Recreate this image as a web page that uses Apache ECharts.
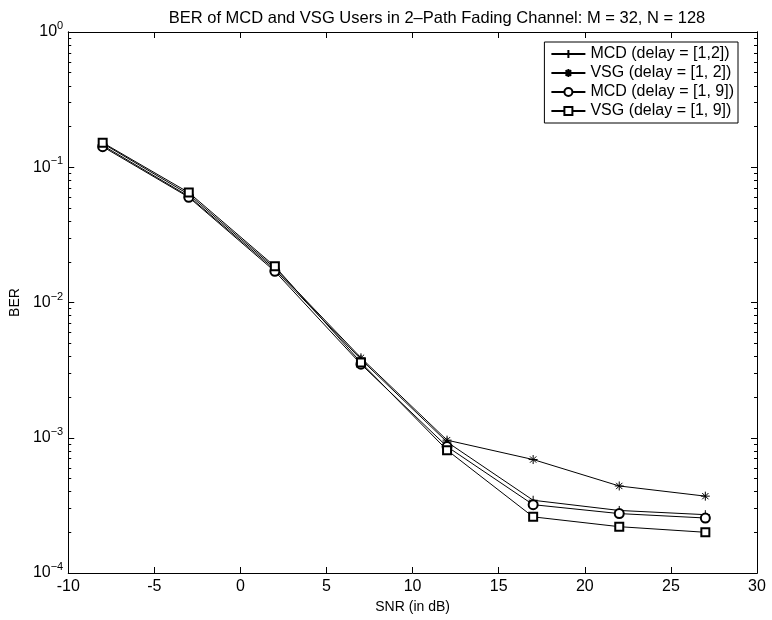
<!DOCTYPE html>
<html>
<head>
<meta charset="utf-8">
<script src="https://cdn.jsdelivr.net/npm/echarts@6/dist/echarts.min.js"></script>
<style>html,body{margin:0;padding:0;background:#fff}#c{width:772px;height:620px}</style>
</head>
<body>
<div id="c"></div>
<script>
var snr = [-8, -3, 2, 7, 12, 17, 22, 27];
var mcd12 = [0.145, 0.061, 0.0175, 0.0038, 0.00093, 0.000345, 0.00029, 0.00027];
var vsg12 = [0.150, 0.063, 0.0180, 0.0039, 0.00096, 0.00069, 0.00044, 0.00037];
var mcd19 = [0.142, 0.060, 0.0170, 0.0035, 0.00086, 0.00032, 0.000275, 0.000255];
var vsg19 = [0.152, 0.065, 0.0185, 0.0036, 0.00081, 0.00026, 0.00022, 0.00020];
var seriesNames = ['MCD (delay = [1,2])', 'VSG (delay = [1, 2])', 'MCD (delay = [1, 9])', 'VSG (delay = [1, 9])'];
var xTicks = [-10, -5, 0, 5, 10, 15, 20, 25, 30];
var yMajor = [1e-4, 1e-3, 1e-2, 1e-1, 1];

var yMinor = [];
for (var e = -4; e < 0; e++) for (var k = 2; k <= 9; k++) yMinor.push(k * Math.pow(10, e));

var FONT = 'Liberation Sans, Arial, sans-serif';
function pairs(arr){ return snr.map(function(x,i){ return [x, arr[i]]; }); }

var plusPath = 'path://M5,0L5,10M0,5L10,5';
var starPath = 'path://M5,0L5,10M0,5L10,5M1.5,1.5L8.5,8.5M1.5,8.5L8.5,1.5';

function mkSeries(name, data, symbol, size) {
  return {
    name: name, type: 'line', data: pairs(data),
    symbol: symbol, symbolSize: size, showSymbol: true,
    lineStyle: { color: '#000', width: 1 },
    itemStyle: { color: '#000', borderColor: '#000', borderWidth: 1 },
    emphasis: { disabled: true }, animation: false, z: 3
  };
}

function yAx(pos, ticks, len, labels) {
  return {
    type: 'log', logBase: 10, min: 1e-4, max: 1, position: pos,
    axisLine: { show: true, onZero: false, lineStyle: { color: '#000', width: 1 } },
    axisTick: { show: true, inside: true, length: len, customValues: ticks, lineStyle: { color: '#000' } },
    splitLine: { show: false },
    axisLabel: labels ? {
      show: true, customValues: yMajor, margin: 5, fontFamily: FONT, fontSize: 16, color: '#000',
      formatter: function(v){ var ex = Math.round(Math.log10(v)); return '10{s|' + (ex < 0 ? '\u2212' + (-ex) : ex) + '}'; },
      rich: { s: { fontSize: 11, verticalAlign: 'bottom', padding: [0,0,12,0], fontFamily: FONT, color: '#000' } }
    } : { show: false },
    name: labels ? 'BER' : '', nameLocation: 'middle', nameGap: 38,
    nameTextStyle: { fontFamily: FONT, fontSize: 14, color: '#000' }
  };
}
function xAx(pos, labels) {
  return {
    type: 'value', min: -10, max: 30, interval: 5, position: pos,
    axisLine: { show: true, onZero: false, lineStyle: { color: '#000', width: 1 } },
    axisTick: { show: true, inside: true, length: 6, customValues: xTicks, lineStyle: { color: '#000' } },
    splitLine: { show: false },
    axisLabel: labels ? { show: true, customValues: xTicks, fontFamily: FONT, fontSize: 16, color: '#000', margin: 6 } : { show: false },
    name: labels ? 'SNR (in dB)' : '', nameLocation: 'middle', nameGap: 25,
    nameTextStyle: { fontFamily: FONT, fontSize: 14, color: '#000' }
  };
}

var chart = echarts.init(document.getElementById('c'), null, { renderer: 'canvas' });
chart.setOption({
  backgroundColor: '#fff',
  animation: false,
  title: {
    text: 'BER of MCD and VSG Users in 2\u2013Path Fading Channel: M = 32, N = 128',
    left: 432, textAlign: 'center', top: 5,
    textStyle: { fontFamily: FONT, fontSize: 16.5, fontWeight: 'normal', color: '#000' }
  },
  grid: { left: 66, right: 15, top: 32, bottom: 47 },
  legend: {
    orient: 'vertical', right: 34, top: 42,
    backgroundColor: '#fff', borderColor: '#000', borderWidth: 1,
    padding: [4, 4, 4, 6], itemGap: 3, itemWidth: 34, itemHeight: 10,
    textStyle: { fontFamily: FONT, fontSize: 16, color: '#000' },
    data: seriesNames
  },
  xAxis: [xAx('bottom', true), xAx('top', false)],
  yAxis: [yAx('left', yMajor, 6, true), yAx('right', yMajor, 6, false), yAx('left', yMinor, 3, false), yAx('right', yMinor, 3, false)],
  series: [
    mkSeries(seriesNames[0], mcd12, plusPath, 9),
    mkSeries(seriesNames[1], vsg12, starPath, 9),
    mkSeries(seriesNames[2], mcd19, 'emptyCircle', 9),
    mkSeries(seriesNames[3], vsg19, 'emptyRect', 8)
  ]
});
</script>
</body>
</html>
